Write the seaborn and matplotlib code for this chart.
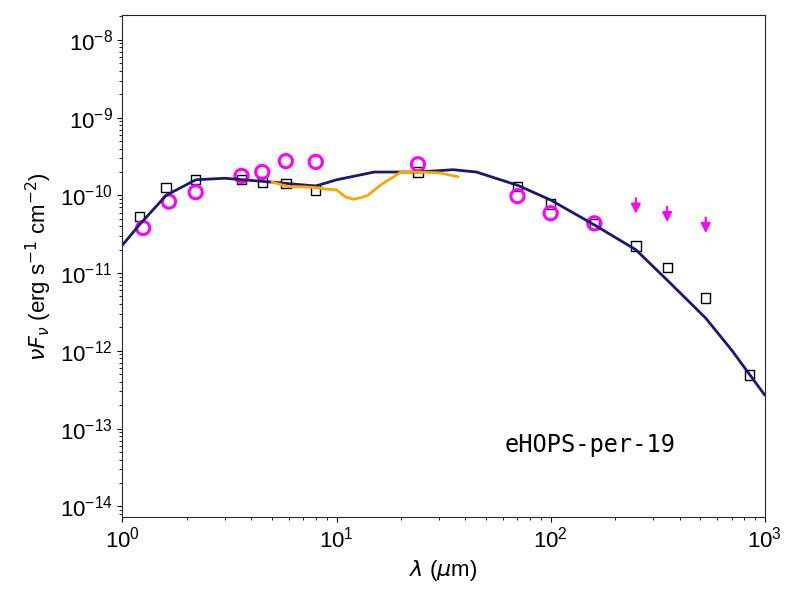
import numpy as np
import matplotlib.pyplot as plt
import seaborn as sns

# Fotometri verileri
phot_wav = [1.2, 1.6, 2.2, 3.6, 4.5, 5.8, 8.0, 24, 70, 100, 160, 250, 350, 530, 850]
phot_flux = [-10.27, -9.90, -9.80, -9.80, -9.83, -9.85, -9.93, -9.70, -9.89, -10.11, -10.37, -10.65, -10.93, -11.32, -12.31]
circ_wav = [1.25, 1.65, 2.2, 3.6, 4.5, 5.8, 8.0, 24, 70, 100, 160]
circ_flux = [-10.42, -10.08, -9.96, -9.75, -9.70, -9.56, -9.57, -9.60, -10.01, -10.23, -10.36]
lim_wav = [250, 350, 530]
lim_flux = [-10.0, -10.11, -10.25]

# Model egrisi
model_wav = [1.0, 1.2, 1.6, 2.2, 3.0, 5.0, 8.0, 10, 15, 24, 35, 45, 70, 100, 160, 250, 350, 530, 700, 1000]
model_flux = [-10.64, -10.38, -10.0, -9.8, -9.78, -9.83, -9.88, -9.80, -9.70, -9.70, -9.67, -9.70, -9.87, -10.06, -10.38, -10.70, -11.09, -11.58, -11.99, -12.57]

# IRS spektrumu
spec_wav = [5, 6, 7, 8, 9, 10, 11, 12, 13, 14, 16, 18, 20, 24, 30, 37]
spec_flux = [-9.83, -9.89, -9.89, -9.90, -9.92, -9.93, -10.02, -10.05, -10.03, -10.0, -9.87, -9.78, -9.70, -9.70, -9.71, -9.76]

sns.set_style('ticks')
plt.rcParams['font.family'] = ['Liberation Sans', 'DejaVu Sans']
plt.rcParams['mathtext.fontset'] = 'dejavusans'
plt.rcParams['text.color'] = 'black'
plt.rcParams['axes.labelcolor'] = 'black'
plt.rcParams['xtick.color'] = 'black'
plt.rcParams['ytick.color'] = 'black'

plt.figure(figsize=(8, 6), dpi=100)
ax = plt.gca()
sns.lineplot(x=model_wav, y=10**np.array(model_flux), color='#191970', linewidth=2, ax=ax)
sns.lineplot(x=spec_wav, y=10**np.array(spec_flux), color='orange', linewidth=2, ax=ax)
sns.scatterplot(x=phot_wav, y=10**np.array(phot_flux), marker='s', s=45, facecolor='none', edgecolor='black', linewidth=1, ax=ax)
sns.scatterplot(x=circ_wav, y=10**np.array(circ_flux), marker='o', s=90, facecolor='none', edgecolor='magenta', linewidth=2.2, ax=ax)
for w, f in zip(lim_wav, lim_flux):
    ax.annotate('', xy=(w, 10**(f - 0.27)), xytext=(w, 10**f),
                arrowprops=dict(arrowstyle='-|>', color='magenta', lw=1.5, mutation_scale=14))
ax.set_xscale('log')
ax.set_yscale('log')
ax.set_xlim(1, 1000)
ax.set_ylim(10**-14.14, 10**-7.68)
ax.set_xlabel(r'$\lambda$ ($\mu$m)', fontsize=16)
ax.set_ylabel(r'$\nu F_\nu$ (erg s$^{-1}$ cm$^{-2}$)', fontsize=16)
ax.tick_params(labelsize=16)
ax.text(0.595, 0.13, 'eHOPS-per-19', transform=ax.transAxes, fontsize=17, family='DejaVu Sans Mono')

plt.subplots_adjust(left=0.153, right=0.956, top=0.975, bottom=0.138)
plt.savefig('out.png')
